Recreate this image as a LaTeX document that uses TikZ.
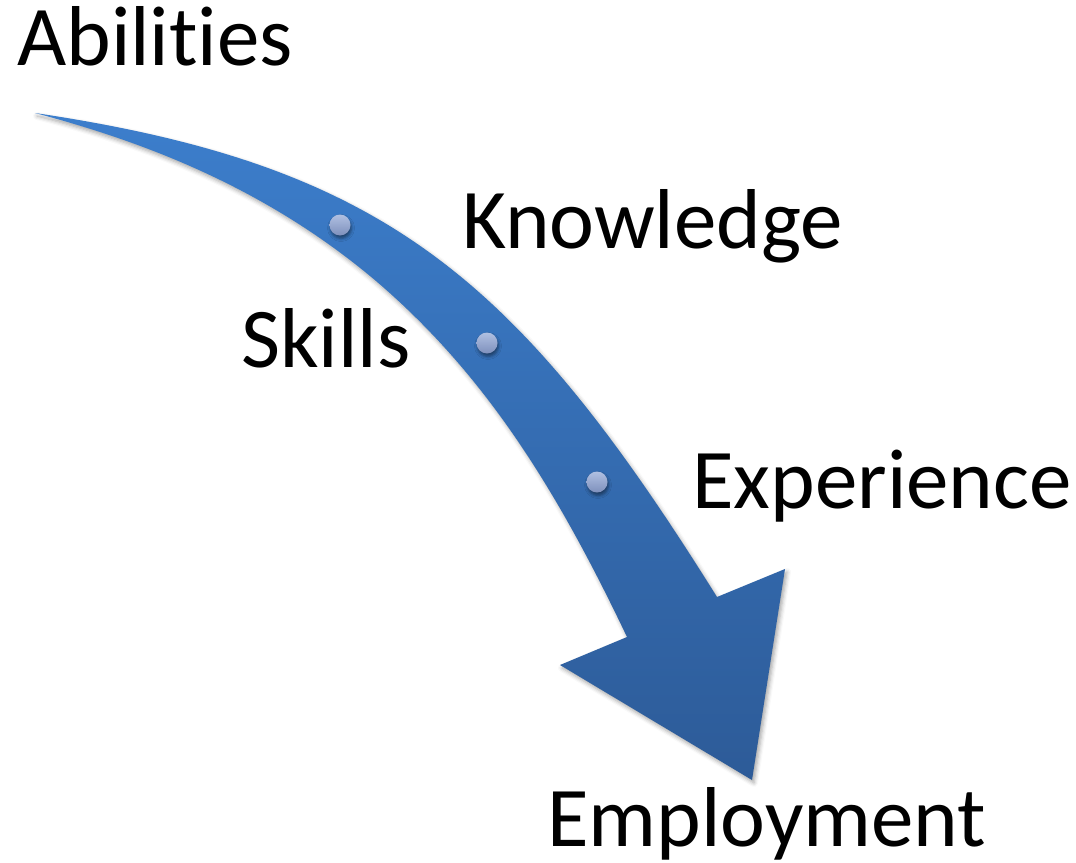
\documentclass[tikz,border=0pt]{standalone}
\usepackage{fontspec}
\setmainfont{Carlito}[Ligatures={NoCommon,NoContextual}]
\usetikzlibrary{shadows.blur}
\definecolor{arrtop}{RGB}{60,126,204}
\definecolor{arrbot}{RGB}{45,91,152}
\definecolor{dottop}{RGB}{176,192,226}
\definecolor{dotbot}{RGB}{126,144,188}
\begin{document}
\begin{tikzpicture}[x=1pt,y=-1pt,
  lbl/.style={anchor=base west, inner sep=0pt, font=\fontsize{85}{92}\selectfont},
  stepdot/.style={circle, minimum size=21pt, inner sep=0pt, top color=dottop, bottom color=dotbot,
    blur shadow={shadow xshift=1pt, shadow yshift=-3pt, shadow blur radius=3pt, shadow opacity=45}},
  arrowshade/.style={top color=arrtop, bottom color=arrbot,
    blur shadow={shadow xshift=2pt, shadow yshift=-3pt, shadow blur radius=4pt, shadow opacity=35}}
]
\useasboundingbox (0,0) rectangle (1076,862);
\shade[arrowshade] (35,113) .. controls (385,165) and (517,277) .. (717,597)
  -- (785,569) -- (752,780) -- (560,665) -- (627,637)
  .. controls (557,490) and (486,375) .. (376,281)
  .. controls (266,188) and (145,142) .. (35,113) -- cycle;
\node[stepdot] (d1) at (340,225) {};
\node[stepdot] (d2) at (487,343) {};
\node[stepdot] (d3) at (597,482) {};
\node[lbl] (abil) at (17,65) {Abilities};
\node[lbl] (know) at (462,248) {Knowledge};
\node[lbl] (skil) at (241,367) {Skills};
\node[lbl] (expe) at (692,508) {Experience};
\node[lbl] (empl) at (547,846) {Employment};
\end{tikzpicture}
\end{document}
